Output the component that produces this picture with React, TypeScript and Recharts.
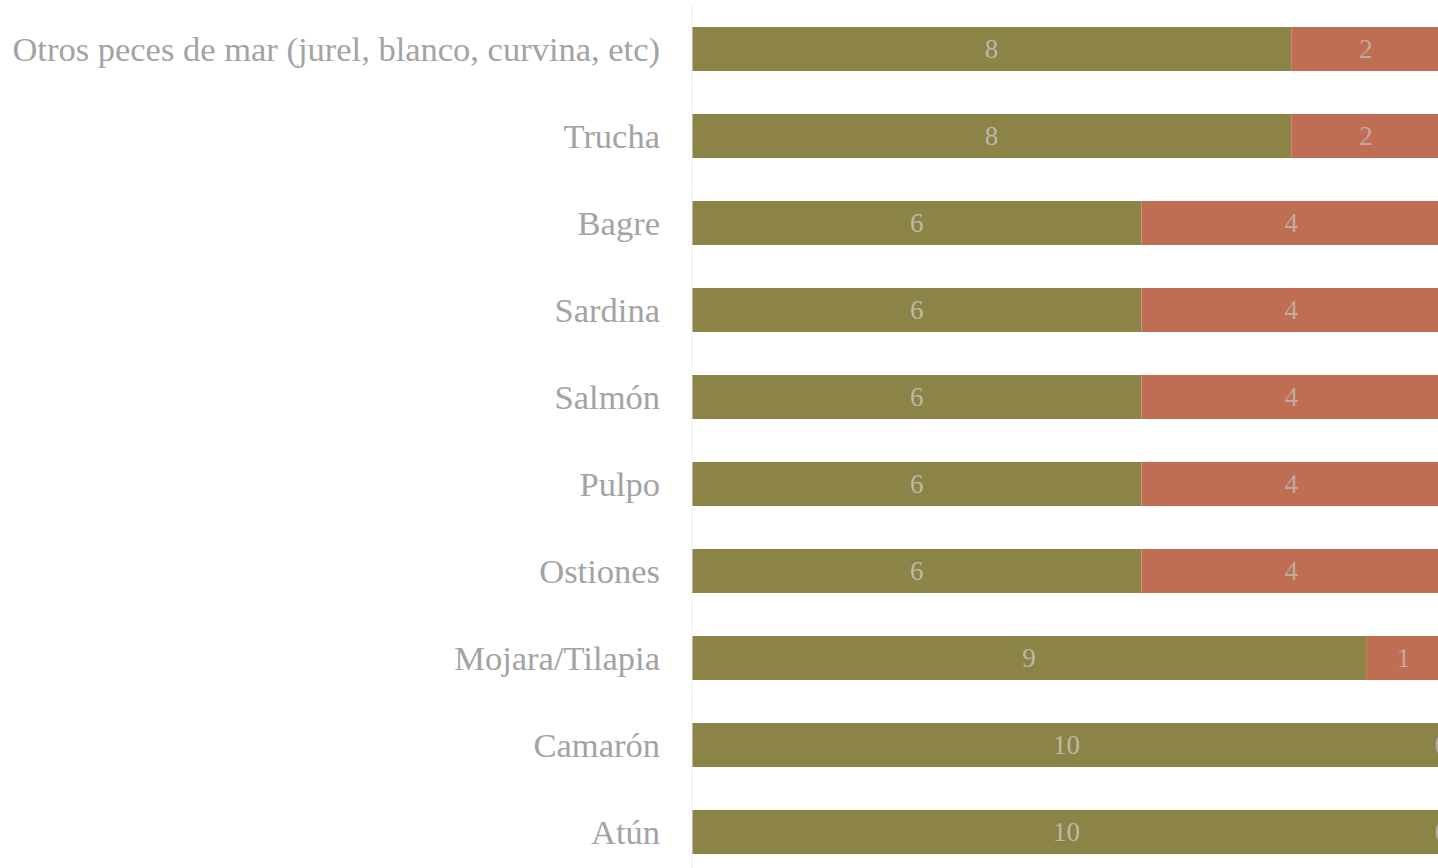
import { BarChart, Bar, XAxis, YAxis, LabelList } from 'recharts';

const categories = [
  'Otros peces de mar (jurel, blanco, curvina, etc)',
  'Trucha',
  'Bagre',
  'Sardina',
  'Salmón',
  'Pulpo',
  'Ostiones',
  'Mojara/Tilapia',
  'Camarón',
  'Atún',
];
const siValues = [8, 8, 6, 6, 6, 6, 6, 9, 10, 10];
const noValues = [2, 2, 4, 4, 4, 4, 4, 1, 0, 0];

const data = categories.map((name, i) => ({
  name,
  si: siValues[i],
  no: noValues[i],
}));

const FONT = '"Liberation Serif", "DejaVu Serif", serif';
const TEXT_GRAY = '#a3a3a3';

// custom label so zero-width segments still get their "0"
function makeLabel(color: string) {
  return (props: any) => {
    const { x, y, width, height, value } = props;
    if (value === undefined || value === null) return null;
    return (
      <text
        x={Number(x) + Number(width) / 2}
        y={Number(y) + Number(height) / 2}
        textAnchor="middle"
        dominantBaseline="central"
        fontSize={27}
        fontFamily={FONT}
        fill={color}
      >
        {value}
      </text>
    );
  };
}

export default function App() {
  return (
    <div
      style={{
        position: 'fixed',
        top: 0,
        left: 0,
        width: 1438,
        height: 868,
        overflow: 'hidden',
        background: '#fff',
      }}
    >
      <BarChart
        width={1470}
        height={876}
        data={data}
        layout="vertical"
        margin={{ top: 5, right: 29, left: 0, bottom: 1 }}
        style={{ overflow: 'visible' }}
      >
        <XAxis type="number" domain={[0, 10]} hide />
        <YAxis
          type="category"
          dataKey="name"
          width={692}
          tickSize={0}
          tickMargin={32}
          axisLine={{ stroke: '#f0f0f0' }}
          tickLine={false}
          tick={{ fontSize: 34.5, fontFamily: FONT, fill: TEXT_GRAY }}
        />
        <Bar dataKey="si" stackId="a" fill="#8c8446" barSize={44} isAnimationActive={false}>
          <LabelList dataKey="si" content={makeLabel('#bdb8a8')} />
        </Bar>
        <Bar
          dataKey="no"
          stackId="a"
          fill="#bf6e53"
          barSize={44}
          minPointSize={1}
          isAnimationActive={false}
        >
          <LabelList dataKey="no" content={makeLabel('#c0aaa2')} />
        </Bar>
      </BarChart>
    </div>
  );
}
